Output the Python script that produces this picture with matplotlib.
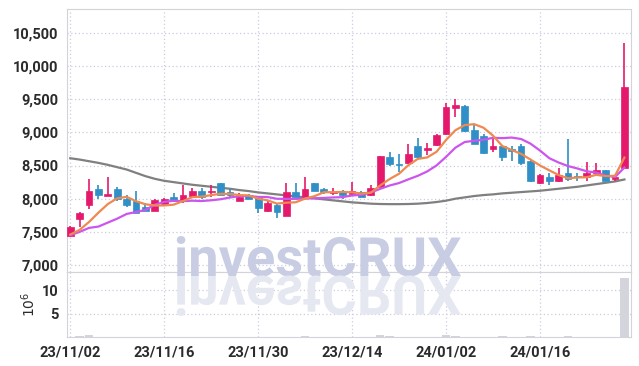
import numpy as np
import matplotlib
matplotlib.use("Agg")
from matplotlib import pyplot as plt
from matplotlib.ticker import FuncFormatter
from matplotlib.patheffects import AbstractPathEffect, Normal
from matplotlib.transforms import Affine2D
from matplotlib.colors import to_rgba

# daily OHLC, 23/11/02 .. 24/01/29
opens = [7440, 7700, 7910, 8150, 8040, 8150, 8000, 7970, 7880, 7820,
         7920, 8020, 7960, 8040, 8120, 8100, 8230, 8100, 7970, 8060,
         8030, 7820, 7910, 7740, 8100, 8030, 8240, 8150, 8090, 8120,
         8070, 8100, 8050, 8180, 8630, 8520, 8540, 8800, 8730, 8810,
         8980, 9360, 9400, 9040, 8950, 8750, 8800, 8750, 8800, 8570,
         8230, 8330, 8260, 8390, 8340, 8320, 8380, 8440, 8300, 8470]
highs = [7590, 7800, 8300, 8210, 8330, 8170, 8060, 8110, 7940, 7990,
         8010, 8080, 8210, 8160, 8160, 8200, 8240, 8150, 8090, 8070,
         8040, 7960, 7920, 8230, 8230, 8330, 8240, 8160, 8160, 8130,
         8250, 8110, 8210, 8650, 8710, 8670, 8830, 8920, 8840, 8970,
         9440, 9500, 9410, 9130, 8970, 8920, 8810, 8790, 8830, 8600,
         8370, 8380, 8470, 8900, 8390, 8560, 8540, 8440, 8350, 10350]
lows = [7430, 7580, 7840, 8000, 8040, 7970, 7880, 7780, 7820, 7810,
        7910, 7950, 7940, 8030, 8000, 8020, 8050, 8020, 7970, 7990,
        7790, 7800, 7710, 7740, 8020, 8020, 8110, 8070, 8060, 7990,
        8060, 8020, 8040, 8170, 8500, 8410, 8530, 8620, 8660, 8790,
        8960, 9230, 9000, 8820, 8680, 8710, 8570, 8570, 8510, 8250,
        8220, 8200, 8250, 8270, 8260, 8260, 8370, 8260, 8260, 8460]
closes = [7570, 7790, 8120, 8050, 8070, 8000, 7900, 7790, 7820, 7980,
          8000, 7960, 8060, 8120, 8020, 8110, 8060, 8050, 8030, 8000,
          7860, 7940, 7800, 8100, 8030, 8140, 8120, 8100, 8100, 8050,
          8110, 8030, 8160, 8650, 8530, 8510, 8680, 8630, 8760, 8960,
          9390, 9420, 9020, 8830, 8690, 8800, 8630, 8720, 8540, 8260,
          8360, 8260, 8360, 8300, 8320, 8380, 8440, 8260, 8330, 9690]
volumes = [0.1, 0.2, 0.4, 0.1, 0.1, 0.1, 0.1, 0.1, 0.1, 0.1,
           0.1, 0.1, 0.1, 0.1, 0.1, 0.1, 0.1, 0.1, 0.1, 0.1,
           0.1, 0.1, 0.1, 0.1, 0.1, 0.3, 0.1, 0.1, 0.1, 0.1,
           0.1, 0.1, 0.1, 0.4, 0.2, 0.1, 0.1, 0.1, 0.1, 0.1,
           0.4, 0.2, 0.1, 0.1, 0.1, 0.1, 0.2, 0.1, 0.1, 0.2,
           0.1, 0.1, 0.1, 0.2, 0.1, 0.1, 0.1, 0.1, 0.1, 12.6]

ma5 = [7460, 7530, 7650, 7790, 7920, 8006, 8028, 7962, 7916, 7898,
       7898, 7910, 7964, 8024, 8032, 8054, 8074, 8072, 8054, 8050,
       8000, 7976, 7926, 7940, 7946, 8002, 8038, 8098, 8098, 8102,
       8096, 8078, 8090, 8200, 8296, 8376, 8506, 8600, 8622, 8708,
       8884, 9032, 9110, 9124, 9070, 8952, 8794, 8734, 8676, 8590,
       8502, 8428, 8356, 8308, 8320, 8324, 8360, 8340, 8346, 8620]
ma10 = [7450, 7500, 7560, 7580, 7640, 7700, 7770, 7800, 7830, 7909,
        7952, 7969, 7963, 7970, 7965, 7976, 7992, 8018, 8039, 8041,
        8027, 8025, 7999, 7997, 7998, 8001, 8007, 8012, 8019, 8024,
        8049, 8058, 8094, 8149, 8199, 8236, 8292, 8345, 8411, 8502,
        8630, 8769, 8855, 8873, 8889, 8918, 8913, 8922, 8900, 8830,
        8727, 8611, 8545, 8492, 8455, 8413, 8394, 8348, 8327, 8470]
ma_long = [8610, 8590, 8565, 8540, 8510, 8475, 8440, 8390, 8340, 8300,
           8270, 8250, 8230, 8210, 8195, 8180, 8165, 8150, 8130, 8115,
           8095, 8080, 8065, 8050, 8035, 8020, 8005, 7990, 7975, 7960,
           7945, 7935, 7925, 7920, 7918, 7918, 7920, 7925, 7935, 7950,
           7970, 8000, 8020, 8040, 8055, 8065, 8080, 8090, 8100, 8110,
           8120, 8135, 8150, 8165, 8180, 8200, 8220, 8240, 8260, 8290]

tick_pos = [0, 10, 20, 30, 40, 50]
tick_labels = ["23/11/02", "23/11/16", "23/11/30", "23/12/14", "24/01/02", "24/01/16"]
price_ticks = [7000, 7500, 8000, 8500, 9000, 9500, 10000, 10500]
vol_ticks = [5, 10]

UP = "#e5196c"
DOWN = "#2f8fc6"
GRID = "#c9cde0"
SPINE = "#d3d3da"
LABEL = "#2b2b2b"

plt.rcParams["font.family"] = ["Roboto", "DejaVu Sans"]

W, H = 639, 366
WM_BASE = 276  # watermark baseline, pixels from top


class Mirror(AbstractPathEffect):
    """draw the glyphs again, flipped about a horizontal line (reflection)"""
    def __init__(self, y_frac, color):
        super().__init__()
        self.y_frac = y_frac
        self.color = to_rgba(color)

    def draw_path(self, renderer, gc, tpath, affine, rgbFace=None):
        y0 = renderer.height * self.y_frac
        flip = affine + Affine2D().scale(1, -1).translate(0, 2 * y0)
        gc0 = renderer.new_gc()
        gc0.copy_properties(gc)
        gc0.set_foreground(self.color)
        gc0.set_alpha(None)
        renderer.draw_path(gc0, tpath, flip, self.color)
        gc0.restore()


fig = plt.figure(figsize=(W/100, H/100), dpi=100)
ax = fig.add_axes([67/W, 1-272/H, 564/W, 263/H])
axv = fig.add_axes([67/W, 1-337/H, 564/W, 65/H], sharex=ax)

x = np.arange(len(closes))
o = np.array(opens); c = np.array(closes)
h = np.array(highs); l = np.array(lows)
colors = [UP if cc >= oo else DOWN for oo, cc in zip(o, c)]

ax.vlines(x, l, h, colors=colors, linewidth=1.2, zorder=3)
body = np.maximum(np.abs(c - o), 12)
ax.bar(x, body, bottom=np.minimum(o, c), width=0.72, color=colors,
       edgecolor=colors, linewidth=0.5, zorder=4)

ax.plot(x, ma_long, color="#808080", linewidth=1.6, zorder=2)
ax.plot(x, ma10, color="#cc55ee", linewidth=1.6, zorder=5)
ax.plot(x, ma5, color="#ee8a50", linewidth=1.6, zorder=5)

axv.bar(x, volumes, width=0.9, color="#d4d4dc", zorder=2)

ax.set_xlim(-0.35, 59.7)
ax.set_ylim(6895, 10860)
axv.set_ylim(0, 13.9)

for a in (ax, axv):
    a.grid(True, color=GRID, linestyle=(0, (1, 2)), linewidth=0.9)
    a.set_axisbelow(True)
    for s in a.spines.values():
        s.set_color(SPINE)
    a.tick_params(length=0, colors=LABEL, pad=6)

ax.set_yticks(price_ticks)
ax.yaxis.set_major_formatter(FuncFormatter(lambda v, p: f"{int(v):,}"))
ax.tick_params(labelbottom=False)
axv.set_yticks(vol_ticks)
axv.set_xticks(tick_pos)
axv.set_xticklabels(tick_labels)
for t in ax.get_yticklabels() + axv.get_yticklabels() + axv.get_xticklabels():
    t.set_fontweight("bold")
    t.set_fontsize(10.5)
axv.set_ylabel("$10^6$", color=LABEL, fontsize=10, labelpad=3)

# watermark with its reflection
fig.text(0.497, 1-WM_BASE/H, "investCRUX", ha="center", va="baseline",
         fontsize=39, fontweight="bold", color="#c8cde3", zorder=10,
         path_effects=[Normal(), Mirror(1-WM_BASE/H, "#e6e8f1")])

fig.savefig("out.png", dpi=100)
